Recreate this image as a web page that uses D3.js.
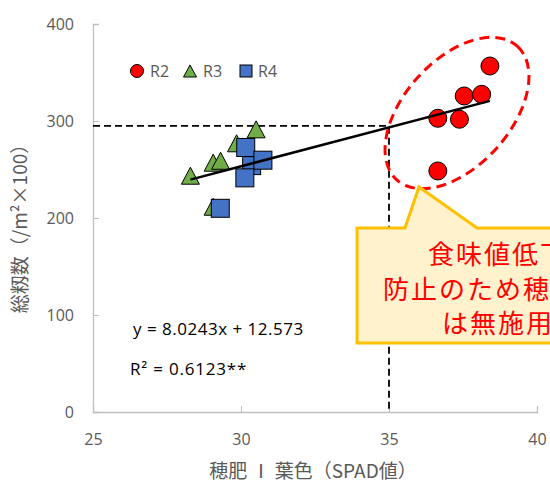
<!DOCTYPE html>
<html>
<head>
<meta charset="utf-8">
<script src="https://cdn.jsdelivr.net/npm/d3@7"></script>
<style>
  body { margin: 0; background: #fff; }
  svg { display: block; }
</style>
</head>
<body>
<div id="chart"></div>
<script>
// series values (SPAD, panicles /m2 x100)
var r2X = [36.65, 37.38, 37.54, 38.13, 38.41, 36.65];
var r2Y = [302.8, 301.8, 325.8, 327.5, 356.7, 248.5];
var r3X = [28.29, 30.51, 29.85, 29.06, 29.31, 29.06];
var r3Y = [243.6, 291.4, 277.0, 257.0, 259.0, 211.6];
var r4X = [30.36, 30.16, 30.74, 30.13, 29.30];
var r4Y = [254.0, 272.7, 259.6, 241.4, 210.0];

var seriesNames = ["R2", "R3", "R4"];
var xTicks = [25, 30, 35, 40];
var yTicks = [0, 100, 200, 300, 400];

// trendline y = a x + b
var slope = 8.0243, intercept = 12.573;
var eqText = "y = 8.0243x + 12.573";
var r2Text = "R² = 0.6123**";

// reference cross at SPAD 35 / 295
var refX = 35, refY = 295;

var xTitle = "穂肥 Ⅰ 葉色（SPAD値）";
var yTitle = "総籾数（/m²×100）";
var calloutLines = ["食味値低下", "防止のため穂肥", "は無施用"];

var W = 550, H = 484;
var font = "'Open Sans', 'Noto Sans', sans-serif";
var jpFont = "'Noto Sans CJK JP', sans-serif";

var svg = d3.select("#chart").append("svg")
  .attr("width", W)
  .attr("height", H);

var x = d3.scaleLinear().domain([25, 40]).range([93, 537]);
var y = d3.scaleLinear().domain([0, 400]).range([412, 24]);

// axes
var xAxis = d3.axisBottom(x).tickValues(xTicks).tickSize(-6).tickPadding(22);
var yAxis = d3.axisLeft(y).tickValues(yTicks).tickSize(-6).tickPadding(19);

svg.append("g")
  .attr("transform", "translate(0," + y(0) + ")")
  .call(xAxis)
  .call(g => g.select(".domain").attr("stroke", "#bfbfbf").attr("stroke-width", 1.3))
  .call(g => g.selectAll(".tick line").attr("stroke", "#bfbfbf"))
  .call(g => g.selectAll(".tick text")
    .attr("font-family", font).attr("font-size", 16).attr("fill", "#595959"));

svg.append("g")
  .attr("transform", "translate(" + x(25) + ",0)")
  .call(yAxis)
  .call(g => g.select(".domain").attr("stroke", "#bfbfbf").attr("stroke-width", 1.3))
  .call(g => g.selectAll(".tick line").attr("stroke", "#bfbfbf"))
  .call(g => g.selectAll(".tick text")
    .attr("font-family", font).attr("font-size", 16).attr("fill", "#595959"));

// axis titles
svg.append("text")
  .attr("x", 313).attr("y", 478)
  .attr("text-anchor", "middle")
  .attr("font-family", jpFont).attr("font-size", 19)
  .attr("fill", "#595959")
  .text(xTitle);

svg.append("text")
  .attr("transform", "translate(27,224) rotate(-90)")
  .attr("text-anchor", "middle")
  .attr("font-family", jpFont).attr("font-size", 19)
  .attr("fill", "#595959")
  .text(yTitle);

// dashed reference lines
svg.append("path")
  .attr("d", "M" + x(25) + "," + y(refY) + "H" + x(refX) + "V" + y(0))
  .attr("fill", "none")
  .attr("stroke", "#000")
  .attr("stroke-width", 1.8)
  .attr("stroke-dasharray", "7,4");

// marker shapes
function triPath(w, h) {
  return "M0," + (-h / 2) + "L" + (w / 2) + "," + (h / 2) + "L" + (-w / 2) + "," + (h / 2) + "Z";
}

var r2 = r2X.map((d, i) => ({ x: d, y: r2Y[i] }));
var r3 = r3X.map((d, i) => ({ x: d, y: r3Y[i] }));
var r4 = r4X.map((d, i) => ({ x: d, y: r4Y[i] }));

svg.append("g").selectAll("circle")
  .data(r2).enter().append("circle")
  .attr("cx", d => x(d.x))
  .attr("cy", d => y(d.y))
  .attr("r", 9)
  .attr("fill", "#ff0000")
  .attr("stroke", "#000")
  .attr("stroke-width", 1);

svg.append("g").selectAll("path")
  .data(r3).enter().append("path")
  .attr("d", triPath(18, 17))
  .attr("transform", d => "translate(" + x(d.x) + "," + y(d.y) + ")")
  .attr("fill", "#70ad47")
  .attr("stroke", "#000")
  .attr("stroke-width", 1);

svg.append("g").selectAll("rect")
  .data(r4).enter().append("rect")
  .attr("x", d => x(d.x) - 9)
  .attr("y", d => y(d.y) - 9)
  .attr("width", 18)
  .attr("height", 18)
  .attr("fill", "#4472c4")
  .attr("stroke", "#000")
  .attr("stroke-width", 1);

// trendline over all points
var allX = r2X.concat(r3X, r4X);
var x0 = d3.min(allX), x1 = d3.max(allX);
svg.append("line")
  .attr("x1", x(x0)).attr("y1", y(slope * x0 + intercept))
  .attr("x2", x(x1)).attr("y2", y(slope * x1 + intercept))
  .attr("stroke", "#000")
  .attr("stroke-width", 2.5);

// equation
svg.append("text")
  .attr("x", 133).attr("y", 335)
  .attr("font-family", font).attr("font-size", 17)
  .attr("letter-spacing", 0.5)
  .attr("fill", "#000")
  .text(eqText);
svg.append("text")
  .attr("x", 130).attr("y", 375)
  .attr("font-family", font).attr("font-size", 17)
  .attr("letter-spacing", 0.8)
  .attr("fill", "#000")
  .text(r2Text);

// legend
var leg = svg.append("g").attr("font-family", font).attr("font-size", 16).attr("fill", "#595959");
leg.append("circle").attr("cx", 137).attr("cy", 71).attr("r", 6.5)
  .attr("fill", "#ff0000").attr("stroke", "#000");
leg.append("path").attr("d", triPath(13, 12)).attr("transform", "translate(190,71)")
  .attr("fill", "#70ad47").attr("stroke", "#000");
leg.append("rect").attr("x", 240).attr("y", 65).attr("width", 12).attr("height", 12)
  .attr("fill", "#4472c4").attr("stroke", "#000");
[150, 203, 258].forEach((lx, i) => {
  leg.append("text").attr("x", lx).attr("y", 77).text(seriesNames[i]);
});

// red dashed ellipse around R2
svg.append("ellipse")
  .attr("transform", "translate(457,113) rotate(-48)")
  .attr("rx", 90).attr("ry", 53)
  .attr("fill", "none")
  .attr("stroke", "#ff0000")
  .attr("stroke-width", 3)
  .attr("stroke-dasharray", "10,6");

// callout box (runs off the right edge, as in the source)
svg.append("path")
  .attr("d", "M357,228L405,228L419,187L477,228L560,228L560,343L357,343Z")
  .attr("fill", "#fff2cc")
  .attr("stroke", "#ffc000")
  .attr("stroke-width", 3)
  .attr("stroke-linejoin", "miter");

var lineX = [428, 383, 442];
var lineY = [252, 287, 321];
calloutLines.forEach((t, i) => {
  svg.append("text")
    .attr("x", lineX[i])
    .attr("y", lineY[i])
    .attr("dominant-baseline", "central")
    .attr("font-family", jpFont).attr("font-size", 26)
    .attr("letter-spacing", 2)
    .attr("fill", "#ff0000")
    .text(t);
});
</script>
</body>
</html>
